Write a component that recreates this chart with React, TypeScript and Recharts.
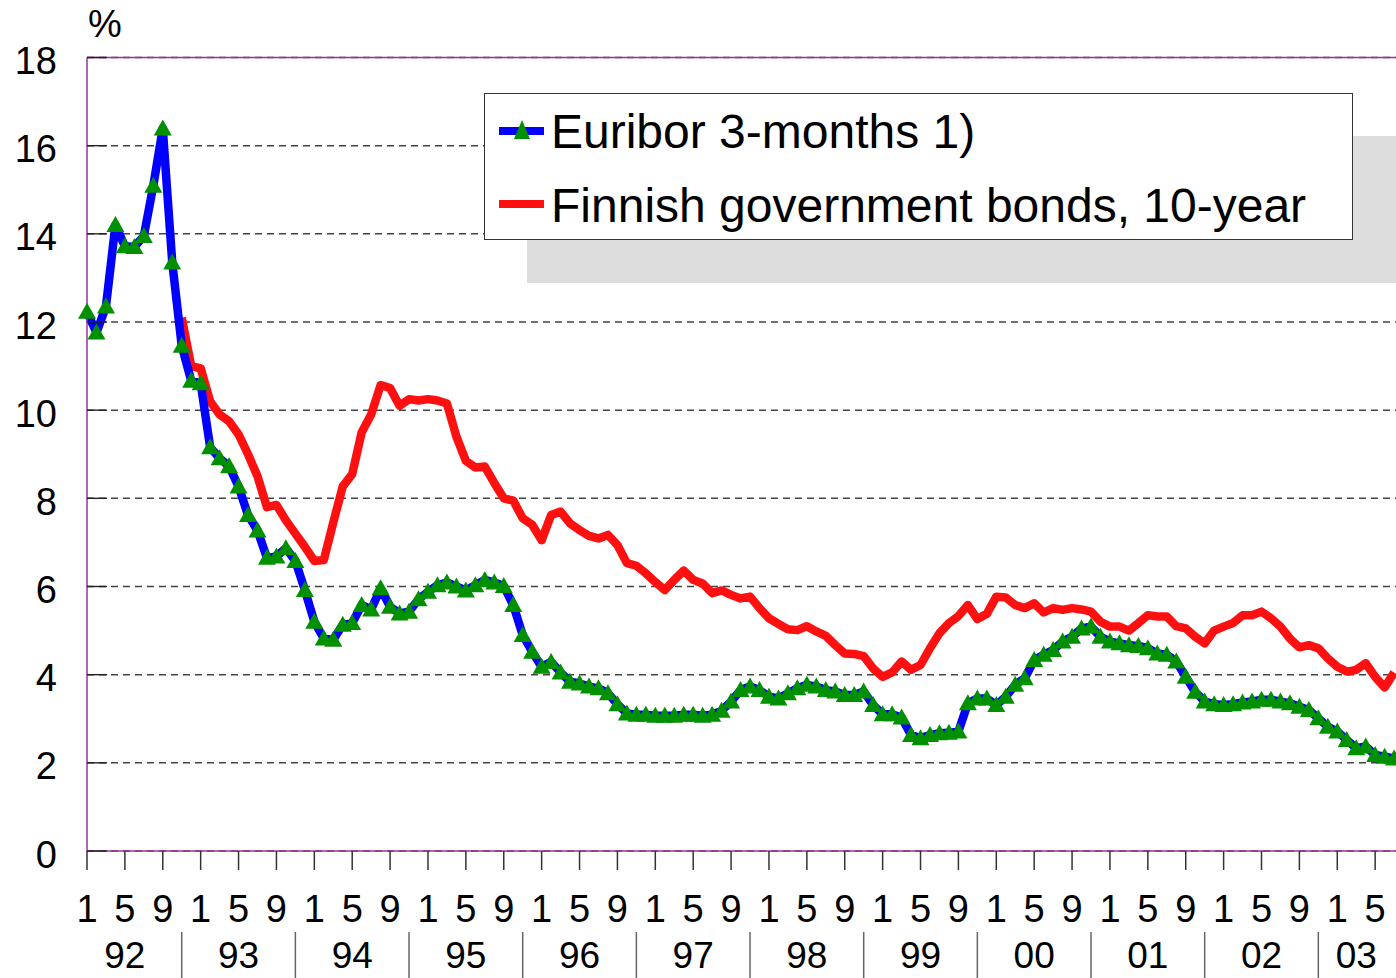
import React from "react";
import {
  LineChart,
  Line,
  XAxis,
  YAxis,
  CartesianGrid,
  Legend,
  ReferenceLine,
} from "recharts";

// monthly observations, Jan 1992 .. Jul 2003
const euribor: number[] = [
  12.23, 11.76, 12.35, 14.2, 13.72, 13.7, 13.95, 15.09, 16.39, 13.35, 11.46, 10.67,
  10.61, 9.16, 8.91, 8.73, 8.27, 7.62, 7.27, 6.65, 6.68, 6.87, 6.58, 5.92,
  5.2, 4.82, 4.79, 5.13, 5.17, 5.58, 5.48, 5.96, 5.54, 5.39, 5.43, 5.71,
  5.88, 6.03, 6.09, 6.0, 5.91, 6.03, 6.15, 6.09, 6.01, 5.58, 4.9, 4.52,
  4.18, 4.29, 4.05, 3.84, 3.8, 3.73, 3.69, 3.58, 3.33, 3.12, 3.09, 3.09,
  3.07, 3.07, 3.07, 3.09, 3.09, 3.07, 3.09, 3.18, 3.39, 3.65, 3.73, 3.65,
  3.5, 3.46, 3.58, 3.69, 3.77, 3.73, 3.65, 3.62, 3.54, 3.54, 3.62, 3.31,
  3.1, 3.1, 3.03, 2.63, 2.56, 2.63, 2.67, 2.68, 2.71, 3.35, 3.46, 3.46,
  3.31, 3.5, 3.77, 3.92, 4.33, 4.45, 4.56, 4.75, 4.86, 5.05, 5.09, 4.86,
  4.75, 4.71, 4.67, 4.65, 4.6, 4.48, 4.45, 4.3, 3.95, 3.61, 3.39, 3.33,
  3.31, 3.33, 3.37, 3.39, 3.43, 3.43, 3.39, 3.35, 3.27, 3.2, 3.01, 2.82,
  2.71, 2.52, 2.33, 2.37, 2.18, 2.14, 2.1,
];

const bonds: (number | null)[] = [
  null, null, null, null, null, null, null, null, null, null, 12.1, 11.0,
  10.95, 10.2, 9.9, 9.75, 9.45, 9.0, 8.5, 7.8, 7.85, 7.5, 7.2, 6.9,
  6.58, 6.6, 7.45, 8.27, 8.55, 9.5, 9.9, 10.57, 10.5, 10.1, 10.25, 10.22,
  10.25, 10.22, 10.15, 9.4, 8.85, 8.7, 8.72, 8.35, 8.0, 7.95, 7.55, 7.4,
  7.05, 7.62, 7.7, 7.43, 7.28, 7.15, 7.09, 7.17, 6.94, 6.53, 6.47, 6.3,
  6.1, 5.92, 6.15, 6.36, 6.15, 6.07, 5.85, 5.91, 5.81, 5.73, 5.77, 5.51,
  5.28, 5.15, 5.03, 5.01, 5.1, 4.98, 4.88, 4.67, 4.48, 4.47, 4.42, 4.14,
  3.95, 4.05, 4.3, 4.11, 4.22, 4.6, 4.94, 5.17, 5.33, 5.58, 5.26, 5.38,
  5.77, 5.75, 5.58, 5.51, 5.62, 5.41, 5.51, 5.47, 5.51, 5.48, 5.43, 5.2,
  5.09, 5.09, 5.0, 5.17, 5.35, 5.32, 5.32, 5.1, 5.05, 4.86, 4.71, 5.0,
  5.09, 5.17, 5.35, 5.35, 5.43, 5.28, 5.09, 4.82, 4.62, 4.67, 4.6, 4.37,
  4.18, 4.07, 4.11, 4.26, 3.95, 3.71, 4.05,
];

const monthLabels = ["1", "5", "9"];
const yearLabels = ["92", "93", "94", "95", "96", "97", "98", "99", "00", "01", "02", "03"];
const yearLabelAt = [4, 16, 28, 40, 52, 64, 76, 88, 100, 112, 124, 134];
const yearSeparatorAt = [10, 22, 34, 46, 58, 70, 82, 94, 106, 118, 130];
const yTicks = [0, 2, 4, 6, 8, 10, 12, 14, 16, 18];

const data = euribor.map((v, i) => ({ i, euribor: v, bond: bonds[i] }));
const monthTicks = data.map((d) => d.i).filter((i) => i % 4 === 0);
const xTicks = Array.from(new Set([...monthTicks, ...yearSeparatorAt, ...yearLabelAt])).sort(
  (a, b) => a - b
);

const FONT = "'Liberation Sans', Arial, Helvetica, sans-serif";
const PURPLE = "#993399";
const PLOT_LEFT = 87;
const PLOT_BOTTOM = 851;

const XTick = (props: any) => {
  const { x, payload } = props;
  const v = payload.value;
  const yi = yearLabelAt.indexOf(v);
  return (
    <g>
      {v % 4 === 0 && (
        <>
          <line x1={x} x2={x} y1={PLOT_BOTTOM} y2={PLOT_BOTTOM + 19} stroke="#333" strokeWidth={1.5} />
          <text x={x} y={922} textAnchor="middle" fontSize={38} fontFamily={FONT} fill="#000">
            {monthLabels[(v % 12) / 4]}
          </text>
        </>
      )}
      {yearSeparatorAt.includes(v) && (
        <line x1={x} x2={x} y1={932} y2={978} stroke="#666" strokeWidth={1.5} />
      )}
      {yi >= 0 && (
        <text x={x} y={968} textAnchor="middle" fontSize={37} fontFamily={FONT} fill="#000">
          {yearLabels[yi]}
        </text>
      )}
    </g>
  );
};

const YTick = (props: any) => {
  const { y, payload } = props;
  return (
    <g>
      <line x1={PLOT_LEFT} x2={PLOT_LEFT + 20} y1={y} y2={y} stroke="#222" strokeWidth={1.4} />
      <text x={57} y={y + 16.5} textAnchor="end" fontSize={38} fontFamily={FONT} fill="#000">
        {payload.value}
      </text>
    </g>
  );
};

const renderTriangle = (props: any) => {
  const { cx, cy, index } = props;
  if (cx == null || cy == null) return <g key={`t-${index}`} />;
  return (
    <polygon
      key={`t-${index}`}
      points={`${cx},${cy - 9} ${cx - 9},${cy + 7} ${cx + 9},${cy + 7}`}
      fill="#009000"
    />
  );
};

const renderLegend = () => (
  <div
    style={{
      width: 869,
      height: 147,
      boxSizing: "border-box",
      background: "#fff",
      border: "1px solid #333",
      boxShadow: "43px 43px 0 0 #dddddd",
    }}
  >
    <svg width={867} height={145} style={{ display: "block" }}>
      <line x1={14} x2={59} y1={37} y2={37} stroke="#0000ff" strokeWidth={8} />
      <polygon points="37,26 29,45 45,45" fill="#009000" />
      <text x={66} y={54} fontSize={48} fontFamily={FONT} fill="#000">
        Euribor 3-months 1)
      </text>
      <line x1={14} x2={59} y1={110} y2={110} stroke="#ff1010" strokeWidth={8} />
      <text x={66} y={128} fontSize={48} fontFamily={FONT} fill="#000">
        Finnish government bonds, 10-year
      </text>
    </svg>
  </div>
);

const App: React.FC = () => {
  return (
    <div style={{ position: "absolute", left: 0, top: 0, background: "#fff" }}>
      <LineChart
        width={1396}
        height={978}
        data={data}
        margin={{ top: 57.5, right: 0, bottom: 0, left: 0 }}
      >
        <CartesianGrid vertical={false} stroke="#444" strokeDasharray="7 5" strokeWidth={1.5} />
        <ReferenceLine y={18} stroke={PURPLE} strokeWidth={1.3} />
        <XAxis
          dataKey="i"
          type="number"
          domain={[0, 138.2]}
          ticks={xTicks}
          interval={0}
          height={127}
          tickLine={false}
          axisLine={{ stroke: PURPLE, strokeWidth: 1.5 }}
          tick={<XTick />}
        />
        <YAxis
          type="number"
          domain={[0, 18]}
          ticks={yTicks}
          interval={0}
          width={87}
          tickLine={false}
          axisLine={{ stroke: PURPLE, strokeWidth: 1.5 }}
          tick={<YTick />}
          label={() => (
            <text key="pct" x={88} y={37} fontSize={38} fontFamily={FONT} fill="#000">
              %
            </text>
          )}
        />
        <Line
          dataKey="bond"
          stroke="#ff1010"
          strokeWidth={8.5}
          strokeLinejoin="round"
          dot={false}
          activeDot={false}
          isAnimationActive={false}
        />
        <Line
          dataKey="euribor"
          stroke="#0000ff"
          strokeWidth={8.5}
          strokeLinejoin="round"
          dot={renderTriangle}
          activeDot={false}
          isAnimationActive={false}
        />
        <Legend
          layout="vertical"
          align="center"
          verticalAlign="middle"
          content={renderLegend}
          wrapperStyle={{ left: 484, top: 93, width: 869, height: 147 }}
        />
      </LineChart>
    </div>
  );
};

export default App;
